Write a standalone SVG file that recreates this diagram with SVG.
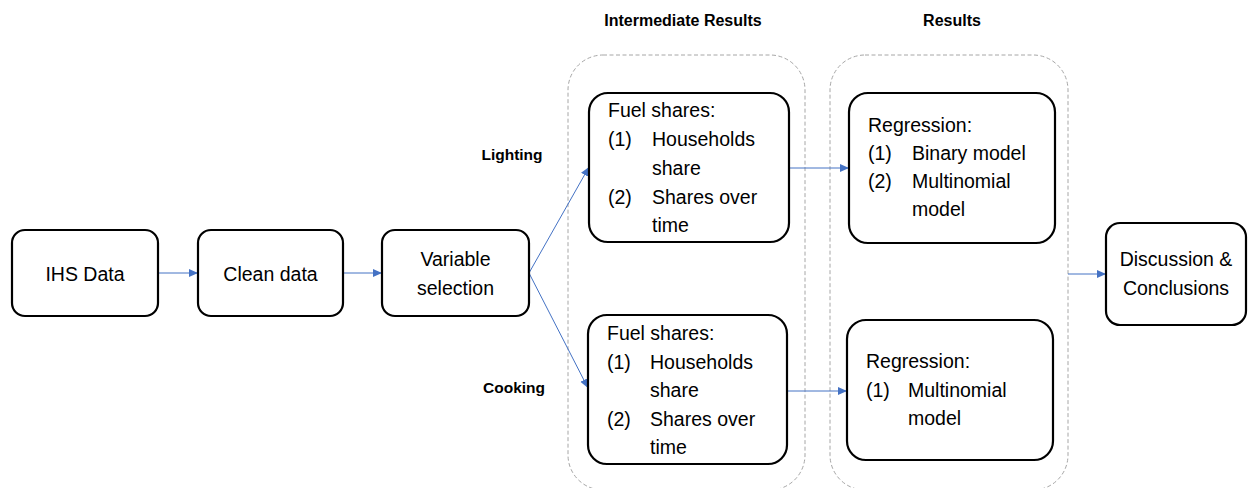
<svg xmlns="http://www.w3.org/2000/svg" width="1248" height="488" viewBox="0 0 1248 488">
  <defs>
    <marker id="ah" markerUnits="userSpaceOnUse" markerWidth="10" markerHeight="10" refX="9" refY="5" orient="auto">
      <path d="M0,1 L9,5 L0,9 Z" fill="#4472c4"/>
    </marker>
    <style>
      .box { fill: #ffffff; stroke: #000000; stroke-width: 2.2; }
      .grp { fill: none; stroke: #a6a6a6; stroke-width: 1; stroke-dasharray: 4 2.5; }
      .t { font-family: "Liberation Sans", Arial, sans-serif; font-size: 19.5px; fill: #000000; }
      .c { text-anchor: middle; }
      .h { font-family: "Liberation Sans", Arial, sans-serif; font-size: 16px; font-weight: bold; fill: #000000; text-anchor: middle; }
      .conn { stroke: #4472c4; stroke-width: 1; fill: none; marker-end: url(#ah); }
    </style>
  </defs>
  <rect width="1248" height="488" fill="#ffffff"/>

  <g id="group-intermediate">
    <rect class="grp" x="568" y="55" width="237" height="435" rx="35" ry="35"/>
    <text class="h" x="683" y="26">Intermediate Results</text>
  </g>
  <g id="group-results">
    <rect class="grp" x="830" y="55" width="238" height="435" rx="35" ry="35"/>
    <text class="h" x="952" y="26">Results</text>
  </g>

  <g id="label-lighting"><text class="h" x="512" y="160" style="font-size:15.5px">Lighting</text></g>
  <g id="label-cooking"><text class="h" x="514" y="393" style="font-size:15.5px">Cooking</text></g>

  <g id="connectors">
    <line class="conn" x1="158" y1="273" x2="198" y2="273"/>
    <line class="conn" x1="343" y1="273" x2="382" y2="273"/>
    <line class="conn" x1="529" y1="273" x2="589" y2="167"/>
    <line class="conn" x1="529" y1="273" x2="588" y2="388"/>
    <line class="conn" x1="789" y1="168" x2="849" y2="168"/>
    <line class="conn" x1="787" y1="391" x2="847" y2="391"/>
    <line class="conn" x1="1068" y1="274" x2="1106" y2="274"/>
  </g>

  <g id="node-ihs">
    <rect class="box" x="12" y="230" width="146" height="86" rx="13" ry="13"/>
    <text class="t c" x="85" y="281">IHS Data</text>
  </g>
  <g id="node-clean">
    <rect class="box" x="198" y="230" width="145" height="86" rx="13" ry="13"/>
    <text class="t c" x="270.5" y="281">Clean data</text>
  </g>
  <g id="node-variable">
    <rect class="box" x="382" y="230" width="147" height="86" rx="13" ry="13"/>
    <text class="t c" x="455.5" y="266">Variable</text>
    <text class="t c" x="455.5" y="295">selection</text>
  </g>

  <g id="node-fuel-lighting">
    <rect class="box" x="589" y="93" width="200" height="149" rx="19" ry="19"/>
    <text class="t" x="608" y="117">Fuel shares:</text>
    <text class="t" x="608" y="146">(1)</text>
    <text class="t" x="652" y="146">Households</text>
    <text class="t" x="652" y="175">share</text>
    <text class="t" x="608" y="204">(2)</text>
    <text class="t" x="652" y="204">Shares over</text>
    <text class="t" x="652" y="232">time</text>
  </g>
  <g id="node-fuel-cooking">
    <rect class="box" x="588" y="315" width="199" height="149" rx="19" ry="19"/>
    <text class="t" x="607" y="340">Fuel shares:</text>
    <text class="t" x="607" y="368.5">(1)</text>
    <text class="t" x="650" y="368.5">Households</text>
    <text class="t" x="650" y="397">share</text>
    <text class="t" x="607" y="425.5">(2)</text>
    <text class="t" x="650" y="425.5">Shares over</text>
    <text class="t" x="650" y="454">time</text>
  </g>

  <g id="node-reg-lighting">
    <rect class="box" x="849" y="93" width="206" height="150" rx="19" ry="19"/>
    <text class="t" x="868" y="132">Regression:</text>
    <text class="t" x="868" y="160">(1)</text>
    <text class="t" x="912" y="160">Binary model</text>
    <text class="t" x="868" y="188">(2)</text>
    <text class="t" x="912" y="188">Multinomial</text>
    <text class="t" x="912" y="216">model</text>
  </g>
  <g id="node-reg-cooking">
    <rect class="box" x="847" y="320" width="206" height="140" rx="19" ry="19"/>
    <text class="t" x="866" y="368">Regression:</text>
    <text class="t" x="866" y="397">(1)</text>
    <text class="t" x="908" y="397">Multinomial</text>
    <text class="t" x="908" y="425">model</text>
  </g>

  <g id="node-discussion">
    <rect class="box" x="1106" y="223" width="140" height="102" rx="14" ry="14"/>
    <text class="t c" x="1176" y="266">Discussion &amp;</text>
    <text class="t c" x="1176" y="295">Conclusions</text>
  </g>
</svg>
